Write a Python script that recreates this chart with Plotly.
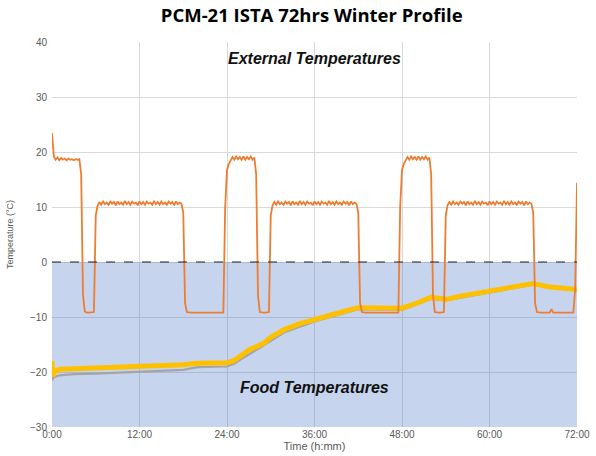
import plotly.graph_objects as go

# External temperature, sampled every 0.25 h from 0:00 to 72:00
ext_step_h = 0.25
ext_temp = [
    23.5, 19.2, 18.6, 19.0, 18.5, 18.9, 18.6, 18.8, 18.5, 18.8, 18.6, 18.7, 18.5, 18.7, 18.6, 18.7,
    16.0, -6.0, -9.0, -9.2, -9.2, -9.2, -9.2, -9.1, 8.5, 10.2,
    10.9, 10.4, 11.0, 10.5, 10.8, 10.4, 11.0, 10.6, 10.9, 10.3, 11.0, 10.5, 10.8, 10.4, 11.1, 10.5,
    10.9, 10.4, 11.0, 10.6, 10.8, 10.3, 11.0, 10.5, 10.9, 10.4, 11.0, 10.6, 10.8, 10.4, 11.1, 10.5,
    10.9, 10.4, 11.0, 10.5, 10.8, 10.4, 11.0, 10.6, 10.9, 10.3, 11.0, 10.5, 10.8, 10.6,
    9.0, -7.5, -9.1,
    -9.2, -9.2, -9.2, -9.2, -9.2, -9.2, -9.2, -9.2, -9.2, -9.2, -9.2, -9.2, -9.2, -9.2, -9.2, -9.2, -9.2, -9.2, -9.2, -9.2,
    10.0, 16.8, 17.8, 18.5,
    19.1, 18.6, 19.2, 18.7, 19.1, 18.6, 19.2, 18.6, 19.1, 18.7, 19.2, 18.6, 19.0,
    16.0, -6.0, -9.1,
    -9.2, -9.2, -9.2, -9.2, -9.1,
    8.5, 10.3,
    10.9, 10.4, 11.0, 10.5, 10.8, 10.4, 11.0, 10.6, 10.9, 10.3, 11.0, 10.5, 10.8, 10.4, 11.1, 10.5,
    10.9, 10.4, 11.0, 10.6, 10.8, 10.3, 11.0, 10.5, 10.9, 10.4, 11.0, 10.6, 10.8, 10.4, 11.1, 10.5,
    10.9, 10.4, 11.0, 10.5, 10.8, 10.4, 11.0, 10.6, 10.9, 10.3, 11.0, 10.5, 10.8, 10.6,
    9.0, -7.5, -9.1,
    -9.2, -9.2, -9.2, -9.2, -9.2, -9.2, -9.2, -9.2, -9.2, -9.2, -9.2, -9.2, -9.2, -9.2, -9.2, -9.2, -9.2, -9.2, -9.2, -9.2,
    10.0, 16.8, 17.8, 18.5,
    19.1, 18.6, 19.2, 18.7, 19.1, 18.6, 19.2, 18.6, 19.1, 18.7, 19.2, 18.6, 19.0,
    16.0, -6.0, -9.1,
    -9.2, -9.2, -9.2, -9.2, -9.1,
    8.5, 10.3,
    10.9, 10.4, 11.0, 10.5, 10.8, 10.4, 11.0, 10.6, 10.9, 10.3, 11.0, 10.5, 10.8, 10.4, 11.1, 10.5,
    10.9, 10.4, 11.0, 10.6, 10.8, 10.3, 11.0, 10.5, 10.9, 10.4, 11.0, 10.6, 10.8, 10.4, 11.1, 10.5,
    10.9, 10.4, 11.0, 10.5, 10.8, 10.4, 11.0, 10.6, 10.9, 10.3, 11.0, 10.5, 10.8, 10.6,
    9.0, -7.5, -9.1,
    -9.2, -9.2, -9.2, -9.2, -9.2, -9.2, -9.2, -8.6, -9.2, -9.2, -9.2, -9.2, -9.2, -9.2, -9.2, -9.2, -9.2, -9.2, -9.2, -9.2,
    -5.0, 14.4,
]
ext_time = [i * ext_step_h for i in range(len(ext_temp))]

# Food temperatures (hours, deg C)
food1_time = [0, 0.1, 0.3, 1, 3, 6, 12, 18, 20, 24, 25, 26, 27, 28, 29, 30, 32, 34, 36, 38, 40, 42,
              44, 46, 48, 50, 52, 53, 54, 56, 60, 64, 66, 68, 70, 72]
food1_temp = [-18.0, -20.8, -20.0, -19.5, -19.4, -19.3, -19.0, -18.7, -18.4, -18.3, -17.9, -17.0,
              -16.0, -15.4, -14.8, -13.7, -12.2, -11.2, -10.4, -9.6, -9.0, -8.3,
              -8.4, -8.4, -8.4, -7.5, -6.4, -6.6, -6.8, -6.2, -5.3, -4.4, -3.9, -4.5, -4.8, -5.0]

food2_time = [0, 0.2, 1, 3, 6, 12, 18, 20, 24, 25, 26, 28, 30, 32, 36, 40, 42, 48, 52, 54, 60, 66, 72]
food2_temp = [-21.5, -21.0, -20.6, -20.4, -20.3, -20.0, -19.6, -19.1, -19.0, -18.5, -17.6, -16.0,
              -14.3, -12.7, -10.8, -9.3, -8.6, -8.7, -6.7, -7.0, -5.5, -4.1, -5.2]

x_tick_vals = [0, 12, 24, 36, 48, 60, 72]
x_tick_text = ["0:00", "12:00", "24:00", "36:00", "48:00", "60:00", "72:00"]
y_tick_vals = [-30, -20, -10, 0, 10, 20, 30, 40]

fig = go.Figure()
fig.add_trace(go.Scatter(x=food2_time, y=food2_temp, mode="lines",
                         line=dict(color="#A5A5A5", width=2.2), showlegend=False))
fig.add_trace(go.Scatter(x=food1_time, y=food1_temp, mode="lines",
                         line=dict(color="#FFC000", width=5), showlegend=False))
fig.add_trace(go.Scatter(x=ext_time, y=ext_temp, mode="lines",
                         line=dict(color="#ED7D31", width=1.8), showlegend=False))

# frozen zone fill and zero line
fig.add_shape(type="rect", xref="x", yref="y", x0=0, x1=72, y0=-30, y1=0,
              fillcolor="rgba(68,114,196,0.3)", line=dict(width=0), layer="between")
fig.add_shape(type="line", xref="x", yref="y", x0=0, x1=72, y0=0, y1=0,
              line=dict(color="#222222", width=1, dash="dash"), layer="above")

fig.add_annotation(text="<b><i>External Temperatures</i></b>", x=36, y=37.0, xref="x", yref="y",
                   showarrow=False, font=dict(family="Liberation Sans, Arial", size=16, color="#111111"))
fig.add_annotation(text="<b><i>Food Temperatures</i></b>", x=36, y=-22.9, xref="x", yref="y",
                   showarrow=False, font=dict(family="Liberation Sans, Arial", size=16, color="#111111"))

fig.update_layout(
    width=596, height=456,
    margin=dict(l=52, r=19, t=42, b=29),
    paper_bgcolor="white", plot_bgcolor="white",
    title=dict(text="<b>PCM-21 ISTA 72hrs Winter Profile</b>", x=0.523, xanchor="center",
               xref="container", y=0.965, yanchor="middle",
               font=dict(family="Open Sans, Liberation Sans", size=18.5, color="#000000")),
    font=dict(family="Liberation Sans, Arial", color="#595959"),
    xaxis=dict(range=[0, 72], tickvals=x_tick_vals, ticktext=x_tick_text, automargin=False,
               showgrid=True, gridcolor="#D9D9D9", gridwidth=1, zeroline=False,
               showline=False, tickfont=dict(size=10, color="#595959"),
               title=dict(text="Time (h:mm)", font=dict(size=11, color="#595959"), standoff=0)),
    yaxis=dict(range=[-30, 40], tickvals=y_tick_vals, automargin=False,
               showgrid=True, gridcolor="#D9D9D9", gridwidth=1, zeroline=False,
               showline=False, tickfont=dict(size=10, color="#595959"), ticks="", ticklabelstandoff=4,
               title=dict(text="Temperature (°C)", font=dict(size=9, color="#595959"), standoff=14)),
)

fig.write_html("out.html", config={"displayModeBar": False},
               post_script="document.body.style.margin='0';")
